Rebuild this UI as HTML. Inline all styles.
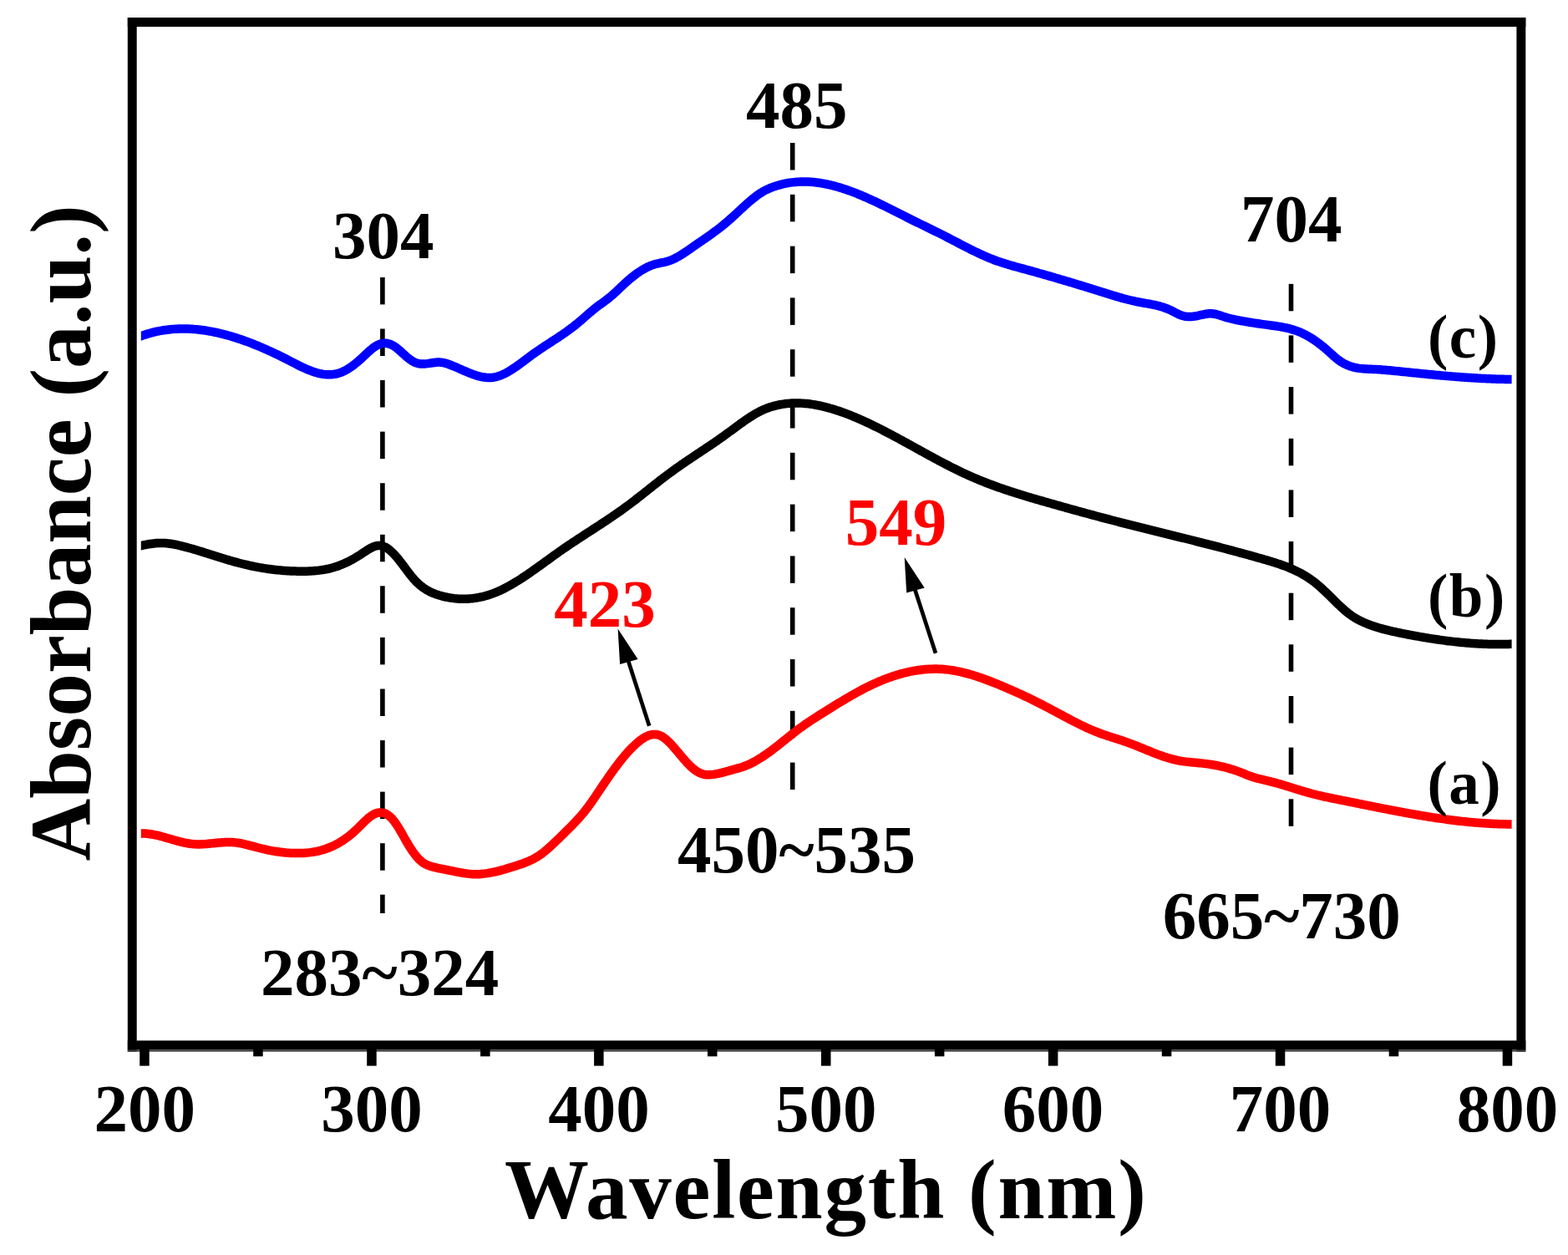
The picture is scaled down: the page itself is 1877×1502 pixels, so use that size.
<!DOCTYPE html>
<html><head><meta charset="utf-8"><title>Absorbance spectra</title>
<style>html,body{margin:0;padding:0;background:#fff;width:1877px;height:1502px;overflow:hidden}svg{display:block}</style>
</head><body>
<svg width="1877" height="1502" viewBox="0 0 1877 1502" font-family="'Liberation Serif', 'Times New Roman', serif" font-weight="bold"><rect x="152.8" y="21" width="1673.5" height="11" fill="#000"/>
<rect x="152.8" y="21" width="10.9" height="1237.6" fill="#000"/>
<rect x="1815.4" y="21" width="10.9" height="1237.6" fill="#000"/>
<rect x="152.8" y="1245.4" width="1673.5" height="11" fill="#000"/>
<rect x="152.8" y="1256.4" width="1673.5" height="2.2" fill="#3a3a3a"/>
<rect x="167.2" y="1256" width="11.5" height="19.6" fill="#000"/>
<rect x="303.2" y="1256" width="11.5" height="8.3" fill="#000"/>
<rect x="439.2" y="1256" width="11.5" height="19.6" fill="#000"/>
<rect x="575.1" y="1256" width="11.5" height="8.3" fill="#000"/>
<rect x="711.1" y="1256" width="11.5" height="19.6" fill="#000"/>
<rect x="847.0" y="1256" width="11.5" height="8.3" fill="#000"/>
<rect x="983.0" y="1256" width="11.5" height="19.6" fill="#000"/>
<rect x="1118.9" y="1256" width="11.5" height="8.3" fill="#000"/>
<rect x="1254.9" y="1256" width="11.5" height="19.6" fill="#000"/>
<rect x="1390.8" y="1256" width="11.5" height="8.3" fill="#000"/>
<rect x="1526.8" y="1256" width="11.5" height="19.6" fill="#000"/>
<rect x="1662.7" y="1256" width="11.5" height="8.3" fill="#000"/>
<rect x="1798.7" y="1256" width="11.5" height="19.6" fill="#000"/>
<rect x="455.1" y="331.9" width="5.6" height="32.5" fill="#000"/><rect x="455.1" y="393.5" width="5.6" height="32.5" fill="#000"/><rect x="455.1" y="455.0" width="5.6" height="32.5" fill="#000"/><rect x="455.1" y="516.6" width="5.6" height="32.5" fill="#000"/><rect x="455.1" y="578.2" width="5.6" height="32.5" fill="#000"/><rect x="455.1" y="639.8" width="5.6" height="32.5" fill="#000"/><rect x="455.1" y="701.3" width="5.6" height="32.5" fill="#000"/><rect x="455.1" y="762.9" width="5.6" height="32.5" fill="#000"/><rect x="455.1" y="824.5" width="5.6" height="32.5" fill="#000"/><rect x="455.1" y="886.0" width="5.6" height="32.5" fill="#000"/><rect x="455.1" y="947.6" width="5.6" height="32.5" fill="#000"/><rect x="455.1" y="1009.2" width="5.6" height="32.5" fill="#000"/><rect x="455.1" y="1070.7" width="5.6" height="22.3" fill="#000"/>
<rect x="945.9" y="171.0" width="5.6" height="32.5" fill="#000"/><rect x="945.9" y="232.8" width="5.6" height="32.5" fill="#000"/><rect x="945.9" y="294.6" width="5.6" height="32.5" fill="#000"/><rect x="945.9" y="356.4" width="5.6" height="32.5" fill="#000"/><rect x="945.9" y="418.2" width="5.6" height="32.5" fill="#000"/><rect x="945.9" y="480.0" width="5.6" height="32.5" fill="#000"/><rect x="945.9" y="541.8" width="5.6" height="32.5" fill="#000"/><rect x="945.9" y="603.6" width="5.6" height="32.5" fill="#000"/><rect x="945.9" y="665.4" width="5.6" height="32.5" fill="#000"/><rect x="945.9" y="727.2" width="5.6" height="32.5" fill="#000"/><rect x="945.9" y="789.0" width="5.6" height="32.5" fill="#000"/><rect x="945.9" y="850.8" width="5.6" height="32.5" fill="#000"/><rect x="945.9" y="912.6" width="5.6" height="32.4" fill="#000"/>
<rect x="1542.7" y="339.8" width="5.6" height="32.5" fill="#000"/><rect x="1542.7" y="401.4" width="5.6" height="32.5" fill="#000"/><rect x="1542.7" y="463.1" width="5.6" height="32.5" fill="#000"/><rect x="1542.7" y="524.8" width="5.6" height="32.5" fill="#000"/><rect x="1542.7" y="586.4" width="5.6" height="32.5" fill="#000"/><rect x="1542.7" y="648.0" width="5.6" height="32.5" fill="#000"/><rect x="1542.7" y="709.7" width="5.6" height="32.5" fill="#000"/><rect x="1542.7" y="771.3" width="5.6" height="32.5" fill="#000"/><rect x="1542.7" y="833.0" width="5.6" height="32.5" fill="#000"/><rect x="1542.7" y="894.6" width="5.6" height="32.5" fill="#000"/><rect x="1542.7" y="956.3" width="5.6" height="32.5" fill="#000"/>
<clipPath id="cp"><rect x="168.8" y="0" width="1640.8" height="1502"/></clipPath>
<g clip-path="url(#cp)">
<path d="M163.8,404.14 L165.8,403.34 L167.8,402.58 L169.8,401.86 L171.8,401.16 L173.8,400.50 L175.8,399.87 L177.8,399.27 L179.8,398.71 L181.8,398.17 L183.8,397.66 L185.8,397.19 L187.8,396.74 L189.8,396.33 L191.8,395.94 L193.8,395.59 L195.8,395.26 L197.8,394.96 L199.8,394.69 L201.8,394.45 L203.8,394.23 L205.8,394.04 L207.8,393.88 L209.8,393.75 L211.8,393.64 L213.8,393.56 L215.8,393.50 L217.8,393.47 L219.8,393.47 L221.8,393.49 L223.8,393.53 L225.8,393.60 L227.8,393.69 L229.8,393.81 L231.8,393.95 L233.8,394.11 L235.8,394.30 L237.8,394.50 L239.8,394.73 L241.8,394.99 L243.8,395.26 L245.8,395.55 L247.8,395.87 L249.8,396.21 L251.8,396.56 L253.8,396.94 L255.8,397.33 L257.8,397.75 L259.8,398.18 L261.8,398.64 L263.8,399.11 L265.8,399.60 L267.8,400.10 L269.8,400.63 L271.8,401.17 L273.8,401.73 L275.8,402.31 L277.8,402.90 L279.8,403.51 L281.8,404.13 L283.8,404.77 L285.8,405.43 L287.8,406.10 L289.8,406.79 L291.8,407.49 L293.8,408.20 L295.8,408.93 L297.8,409.68 L299.8,410.44 L301.8,411.21 L303.8,412.00 L305.8,412.80 L307.8,413.61 L309.8,414.44 L311.8,415.28 L313.8,416.13 L315.8,417.00 L317.8,417.88 L319.8,418.77 L321.8,419.67 L323.8,420.58 L325.8,421.50 L327.8,422.44 L329.8,423.39 L331.8,424.34 L333.8,425.31 L335.8,426.29 L337.8,427.28 L339.8,428.27 L341.8,429.28 L343.8,430.30 L345.8,431.32 L347.8,432.36 L349.8,433.39 L351.8,434.42 L353.8,435.44 L355.8,436.46 L357.8,437.46 L359.8,438.44 L361.8,439.40 L363.8,440.33 L365.8,441.23 L367.8,442.09 L369.8,442.92 L371.8,443.70 L373.8,444.44 L375.8,445.12 L377.8,445.75 L379.8,446.33 L381.8,446.83 L383.8,447.27 L385.8,447.64 L387.8,447.94 L389.8,448.15 L391.8,448.28 L393.8,448.33 L395.8,448.28 L397.8,448.14 L399.8,447.89 L401.8,447.55 L403.8,447.09 L405.8,446.53 L407.8,445.85 L409.8,445.04 L411.8,444.13 L413.8,443.10 L415.8,441.97 L417.8,440.74 L419.8,439.41 L421.8,438.00 L423.8,436.50 L425.8,434.92 L427.8,433.27 L429.8,431.54 L431.8,429.76 L433.8,427.92 L435.8,426.03 L437.8,424.14 L439.8,422.27 L441.8,420.44 L443.8,418.69 L445.8,417.05 L447.8,415.55 L449.8,414.21 L451.8,413.08 L453.8,412.16 L455.8,411.48 L457.8,411.02 L459.8,410.80 L461.8,410.81 L463.8,411.05 L465.8,411.52 L467.8,412.23 L469.8,413.16 L471.8,414.33 L473.8,415.72 L475.8,417.28 L477.8,418.98 L479.8,420.76 L481.8,422.59 L483.8,424.41 L485.8,426.20 L487.8,427.90 L489.8,429.50 L491.8,430.96 L493.8,432.25 L495.8,433.34 L497.8,434.20 L499.8,434.83 L501.8,435.25 L503.8,435.49 L505.8,435.57 L507.8,435.52 L509.8,435.37 L511.8,435.14 L513.8,434.86 L515.8,434.55 L517.8,434.25 L519.8,433.97 L521.8,433.74 L523.8,433.60 L525.8,433.56 L527.8,433.66 L529.8,433.91 L531.8,434.32 L533.8,434.86 L535.8,435.50 L537.8,436.21 L539.8,436.97 L541.8,437.77 L543.8,438.59 L545.8,439.44 L547.8,440.31 L549.8,441.19 L551.8,442.07 L553.8,442.96 L555.8,443.83 L557.8,444.69 L559.8,445.54 L561.8,446.36 L563.8,447.14 L565.8,447.89 L567.8,448.60 L569.8,449.25 L571.8,449.85 L573.8,450.39 L575.8,450.86 L577.8,451.25 L579.8,451.57 L581.8,451.80 L583.8,451.94 L585.8,451.98 L587.8,451.91 L589.8,451.73 L591.8,451.44 L593.8,451.03 L595.8,450.49 L597.8,449.85 L599.8,449.11 L601.8,448.26 L603.8,447.33 L605.8,446.31 L607.8,445.22 L609.8,444.05 L611.8,442.82 L613.8,441.53 L615.8,440.19 L617.8,438.81 L619.8,437.39 L621.8,435.94 L623.8,434.47 L625.8,432.98 L627.8,431.48 L629.8,429.97 L631.8,428.47 L633.8,426.98 L635.8,425.50 L637.8,424.05 L639.8,422.62 L641.8,421.22 L643.8,419.84 L645.8,418.47 L647.8,417.13 L649.8,415.80 L651.8,414.48 L653.8,413.17 L655.8,411.87 L657.8,410.57 L659.8,409.27 L661.8,407.97 L663.8,406.66 L665.8,405.35 L667.8,404.03 L669.8,402.70 L671.8,401.36 L673.8,399.99 L675.8,398.61 L677.8,397.21 L679.8,395.78 L681.8,394.32 L683.8,392.83 L685.8,391.31 L687.8,389.76 L689.8,388.16 L691.8,386.53 L693.8,384.85 L695.8,383.14 L697.8,381.39 L699.8,379.63 L701.8,377.86 L703.8,376.10 L705.8,374.36 L707.8,372.65 L709.8,370.98 L711.8,369.37 L713.8,367.81 L715.8,366.32 L717.8,364.85 L719.8,363.40 L721.8,361.96 L723.8,360.51 L725.8,359.02 L727.8,357.49 L729.8,355.89 L731.8,354.22 L733.8,352.48 L735.8,350.67 L737.8,348.82 L739.8,346.94 L741.8,345.04 L743.8,343.14 L745.8,341.25 L747.8,339.39 L749.8,337.56 L751.8,335.79 L753.8,334.07 L755.8,332.40 L757.8,330.79 L759.8,329.24 L761.8,327.76 L763.8,326.34 L765.8,324.99 L767.8,323.70 L769.8,322.49 L771.8,321.36 L773.8,320.30 L775.8,319.33 L777.8,318.44 L779.8,317.63 L781.8,316.91 L783.8,316.28 L785.8,315.74 L787.8,315.27 L789.8,314.85 L791.8,314.44 L793.8,314.04 L795.8,313.60 L797.8,313.11 L799.8,312.54 L801.8,311.87 L803.8,311.09 L805.8,310.23 L807.8,309.28 L809.8,308.25 L811.8,307.15 L813.8,305.99 L815.8,304.77 L817.8,303.50 L819.8,302.20 L821.8,300.85 L823.8,299.49 L825.8,298.10 L827.8,296.70 L829.8,295.30 L831.8,293.90 L833.8,292.51 L835.8,291.12 L837.8,289.75 L839.8,288.37 L841.8,287.00 L843.8,285.62 L845.8,284.23 L847.8,282.84 L849.8,281.43 L851.8,280.00 L853.8,278.56 L855.8,277.09 L857.8,275.60 L859.8,274.08 L861.8,272.53 L863.8,270.94 L865.8,269.32 L867.8,267.66 L869.8,265.96 L871.8,264.24 L873.8,262.49 L875.8,260.71 L877.8,258.91 L879.8,257.08 L881.8,255.24 L883.8,253.39 L885.8,251.53 L887.8,249.67 L889.8,247.83 L891.8,245.99 L893.8,244.19 L895.8,242.41 L897.8,240.68 L899.8,238.98 L901.8,237.34 L903.8,235.76 L905.8,234.25 L907.8,232.81 L909.8,231.45 L911.8,230.19 L913.8,229.01 L915.8,227.92 L917.8,226.92 L919.8,225.99 L921.8,225.13 L923.8,224.34 L925.8,223.60 L927.8,222.91 L929.8,222.27 L931.8,221.67 L933.8,221.11 L935.8,220.59 L937.8,220.12 L939.8,219.69 L941.8,219.29 L943.8,218.94 L945.8,218.63 L947.8,218.35 L949.8,218.11 L951.8,217.91 L953.8,217.75 L955.8,217.63 L957.8,217.54 L959.8,217.48 L961.8,217.46 L963.8,217.48 L965.8,217.52 L967.8,217.60 L969.8,217.72 L971.8,217.86 L973.8,218.04 L975.8,218.24 L977.8,218.48 L979.8,218.75 L981.8,219.04 L983.8,219.37 L985.8,219.72 L987.8,220.10 L989.8,220.51 L991.8,220.94 L993.8,221.40 L995.8,221.88 L997.8,222.39 L999.8,222.92 L1001.8,223.47 L1003.8,224.05 L1005.8,224.65 L1007.8,225.27 L1009.8,225.91 L1011.8,226.57 L1013.8,227.26 L1015.8,227.96 L1017.8,228.68 L1019.8,229.42 L1021.8,230.18 L1023.8,230.95 L1025.8,231.74 L1027.8,232.55 L1029.8,233.37 L1031.8,234.21 L1033.8,235.06 L1035.8,235.92 L1037.8,236.80 L1039.8,237.69 L1041.8,238.59 L1043.8,239.50 L1045.8,240.43 L1047.8,241.36 L1049.8,242.30 L1051.8,243.25 L1053.8,244.21 L1055.8,245.18 L1057.8,246.16 L1059.8,247.14 L1061.8,248.12 L1063.8,249.12 L1065.8,250.11 L1067.8,251.11 L1069.8,252.12 L1071.8,253.12 L1073.8,254.13 L1075.8,255.14 L1077.8,256.15 L1079.8,257.16 L1081.8,258.17 L1083.8,259.18 L1085.8,260.19 L1087.8,261.20 L1089.8,262.20 L1091.8,263.20 L1093.8,264.20 L1095.8,265.19 L1097.8,266.17 L1099.8,267.16 L1101.8,268.14 L1103.8,269.11 L1105.8,270.08 L1107.8,271.06 L1109.8,272.03 L1111.8,273.00 L1113.8,273.98 L1115.8,274.95 L1117.8,275.93 L1119.8,276.92 L1121.8,277.90 L1123.8,278.90 L1125.8,279.90 L1127.8,280.91 L1129.8,281.92 L1131.8,282.94 L1133.8,283.97 L1135.8,285.01 L1137.8,286.05 L1139.8,287.09 L1141.8,288.13 L1143.8,289.17 L1145.8,290.22 L1147.8,291.26 L1149.8,292.30 L1151.8,293.34 L1153.8,294.37 L1155.8,295.40 L1157.8,296.42 L1159.8,297.43 L1161.8,298.43 L1163.8,299.43 L1165.8,300.41 L1167.8,301.38 L1169.8,302.34 L1171.8,303.29 L1173.8,304.22 L1175.8,305.13 L1177.8,306.03 L1179.8,306.90 L1181.8,307.76 L1183.8,308.60 L1185.8,309.42 L1187.8,310.21 L1189.8,310.98 L1191.8,311.73 L1193.8,312.45 L1195.8,313.15 L1197.8,313.83 L1199.8,314.48 L1201.8,315.12 L1203.8,315.74 L1205.8,316.34 L1207.8,316.93 L1209.8,317.51 L1211.8,318.08 L1213.8,318.64 L1215.8,319.19 L1217.8,319.74 L1219.8,320.29 L1221.8,320.83 L1223.8,321.38 L1225.8,321.92 L1227.8,322.47 L1229.8,323.02 L1231.8,323.57 L1233.8,324.13 L1235.8,324.68 L1237.8,325.24 L1239.8,325.80 L1241.8,326.36 L1243.8,326.93 L1245.8,327.49 L1247.8,328.06 L1249.8,328.63 L1251.8,329.20 L1253.8,329.77 L1255.8,330.35 L1257.8,330.92 L1259.8,331.50 L1261.8,332.08 L1263.8,332.67 L1265.8,333.25 L1267.8,333.84 L1269.8,334.42 L1271.8,335.01 L1273.8,335.61 L1275.8,336.20 L1277.8,336.79 L1279.8,337.39 L1281.8,337.99 L1283.8,338.59 L1285.8,339.19 L1287.8,339.80 L1289.8,340.41 L1291.8,341.01 L1293.8,341.62 L1295.8,342.24 L1297.8,342.85 L1299.8,343.47 L1301.8,344.08 L1303.8,344.70 L1305.8,345.32 L1307.8,345.95 L1309.8,346.57 L1311.8,347.20 L1313.8,347.83 L1315.8,348.46 L1317.8,349.09 L1319.8,349.72 L1321.8,350.35 L1323.8,350.98 L1325.8,351.60 L1327.8,352.22 L1329.8,352.84 L1331.8,353.45 L1333.8,354.05 L1335.8,354.65 L1337.8,355.24 L1339.8,355.81 L1341.8,356.38 L1343.8,356.94 L1345.8,357.48 L1347.8,358.01 L1349.8,358.52 L1351.8,359.02 L1353.8,359.51 L1355.8,359.97 L1357.8,360.42 L1359.8,360.85 L1361.8,361.26 L1363.8,361.64 L1365.8,362.01 L1367.8,362.37 L1369.8,362.72 L1371.8,363.07 L1373.8,363.43 L1375.8,363.79 L1377.8,364.16 L1379.8,364.56 L1381.8,364.97 L1383.8,365.42 L1385.8,365.90 L1387.8,366.41 L1389.8,366.97 L1391.8,367.58 L1393.8,368.24 L1395.8,368.96 L1397.8,369.75 L1399.8,370.60 L1401.8,371.52 L1403.8,372.52 L1405.8,373.56 L1407.8,374.61 L1409.8,375.61 L1411.8,376.53 L1413.8,377.34 L1415.8,377.99 L1417.8,378.46 L1419.8,378.78 L1421.8,378.96 L1423.8,379.01 L1425.8,378.95 L1427.8,378.79 L1429.8,378.54 L1431.8,378.22 L1433.8,377.85 L1435.8,377.43 L1437.8,376.99 L1439.8,376.53 L1441.8,376.11 L1443.8,375.73 L1445.8,375.45 L1447.8,375.29 L1449.8,375.27 L1451.8,375.43 L1453.8,375.74 L1455.8,376.18 L1457.8,376.72 L1459.8,377.32 L1461.8,377.97 L1463.8,378.64 L1465.8,379.28 L1467.8,379.90 L1469.8,380.47 L1471.8,381.00 L1473.8,381.51 L1475.8,381.98 L1477.8,382.43 L1479.8,382.85 L1481.8,383.25 L1483.8,383.63 L1485.8,384.00 L1487.8,384.35 L1489.8,384.70 L1491.8,385.04 L1493.8,385.37 L1495.8,385.70 L1497.8,386.02 L1499.8,386.34 L1501.8,386.65 L1503.8,386.95 L1505.8,387.25 L1507.8,387.54 L1509.8,387.83 L1511.8,388.11 L1513.8,388.38 L1515.8,388.65 L1517.8,388.91 L1519.8,389.17 L1521.8,389.44 L1523.8,389.71 L1525.8,389.99 L1527.8,390.29 L1529.8,390.60 L1531.8,390.93 L1533.8,391.28 L1535.8,391.65 L1537.8,392.05 L1539.8,392.48 L1541.8,392.95 L1543.8,393.46 L1545.8,394.00 L1547.8,394.59 L1549.8,395.22 L1551.8,395.91 L1553.8,396.64 L1555.8,397.43 L1557.8,398.29 L1559.8,399.20 L1561.8,400.18 L1563.8,401.22 L1565.8,402.33 L1567.8,403.49 L1569.8,404.72 L1571.8,406.01 L1573.8,407.36 L1575.8,408.76 L1577.8,410.22 L1579.8,411.73 L1581.8,413.30 L1583.8,414.92 L1585.8,416.59 L1587.8,418.32 L1589.8,420.09 L1591.8,421.89 L1593.8,423.71 L1595.8,425.50 L1597.8,427.26 L1599.8,428.94 L1601.8,430.53 L1603.8,432.00 L1605.8,433.32 L1607.8,434.52 L1609.8,435.60 L1611.8,436.55 L1613.8,437.40 L1615.8,438.15 L1617.8,438.80 L1619.8,439.36 L1621.8,439.85 L1623.8,440.26 L1625.8,440.60 L1627.8,440.89 L1629.8,441.12 L1631.8,441.31 L1633.8,441.46 L1635.8,441.59 L1637.8,441.69 L1639.8,441.77 L1641.8,441.85 L1643.8,441.93 L1645.8,442.01 L1647.8,442.11 L1649.8,442.22 L1651.8,442.35 L1653.8,442.49 L1655.8,442.64 L1657.8,442.80 L1659.8,442.97 L1661.8,443.15 L1663.8,443.33 L1665.8,443.53 L1667.8,443.72 L1669.8,443.92 L1671.8,444.13 L1673.8,444.33 L1675.8,444.54 L1677.8,444.74 L1679.8,444.95 L1681.8,445.15 L1683.8,445.36 L1685.8,445.56 L1687.8,445.77 L1689.8,445.97 L1691.8,446.17 L1693.8,446.38 L1695.8,446.58 L1697.8,446.78 L1699.8,446.98 L1701.8,447.18 L1703.8,447.37 L1705.8,447.57 L1707.8,447.76 L1709.8,447.96 L1711.8,448.15 L1713.8,448.34 L1715.8,448.53 L1717.8,448.71 L1719.8,448.90 L1721.8,449.08 L1723.8,449.26 L1725.8,449.44 L1727.8,449.62 L1729.8,449.79 L1731.8,449.96 L1733.8,450.13 L1735.8,450.30 L1737.8,450.47 L1739.8,450.63 L1741.8,450.79 L1743.8,450.94 L1745.8,451.10 L1747.8,451.25 L1749.8,451.40 L1751.8,451.54 L1753.8,451.68 L1755.8,451.82 L1757.8,451.96 L1759.8,452.09 L1761.8,452.21 L1763.8,452.34 L1765.8,452.46 L1767.8,452.58 L1769.8,452.69 L1771.8,452.80 L1773.8,452.90 L1775.8,453.00 L1777.8,453.10 L1779.8,453.19 L1781.8,453.28 L1783.8,453.36 L1785.8,453.44 L1787.8,453.52 L1789.8,453.59 L1791.8,453.65 L1793.8,453.71 L1795.8,453.77 L1797.8,453.82 L1799.8,453.86 L1801.8,453.90 L1803.8,453.94 L1805.8,453.97 L1807.8,453.99 L1809.8,454.01 L1811.8,454.02 L1813.8,454.03" fill="none" stroke="#0000ff" stroke-width="10.5" stroke-linejoin="round"/>
<path d="M163.8,654.48 L165.8,653.94 L167.8,653.42 L169.8,652.93 L171.8,652.47 L173.8,652.04 L175.8,651.64 L177.8,651.29 L179.8,650.96 L181.8,650.68 L183.8,650.44 L185.8,650.24 L187.8,650.09 L189.8,649.98 L191.8,649.93 L193.8,649.92 L195.8,649.96 L197.8,650.06 L199.8,650.22 L201.8,650.43 L203.8,650.69 L205.8,651.00 L207.8,651.36 L209.8,651.75 L211.8,652.18 L213.8,652.63 L215.8,653.10 L217.8,653.59 L219.8,654.09 L221.8,654.61 L223.8,655.14 L225.8,655.69 L227.8,656.24 L229.8,656.81 L231.8,657.39 L233.8,657.97 L235.8,658.57 L237.8,659.17 L239.8,659.78 L241.8,660.39 L243.8,661.01 L245.8,661.64 L247.8,662.26 L249.8,662.89 L251.8,663.52 L253.8,664.16 L255.8,664.79 L257.8,665.42 L259.8,666.05 L261.8,666.68 L263.8,667.30 L265.8,667.92 L267.8,668.54 L269.8,669.15 L271.8,669.75 L273.8,670.35 L275.8,670.94 L277.8,671.52 L279.8,672.09 L281.8,672.65 L283.8,673.19 L285.8,673.73 L287.8,674.25 L289.8,674.76 L291.8,675.25 L293.8,675.73 L295.8,676.20 L297.8,676.65 L299.8,677.09 L301.8,677.51 L303.8,677.92 L305.8,678.32 L307.8,678.70 L309.8,679.07 L311.8,679.42 L313.8,679.76 L315.8,680.09 L317.8,680.40 L319.8,680.70 L321.8,680.98 L323.8,681.25 L325.8,681.50 L327.8,681.75 L329.8,681.97 L331.8,682.19 L333.8,682.39 L335.8,682.57 L337.8,682.75 L339.8,682.91 L341.8,683.05 L343.8,683.18 L345.8,683.30 L347.8,683.40 L349.8,683.49 L351.8,683.56 L353.8,683.62 L355.8,683.67 L357.8,683.70 L359.8,683.72 L361.8,683.72 L363.8,683.71 L365.8,683.68 L367.8,683.64 L369.8,683.57 L371.8,683.48 L373.8,683.37 L375.8,683.23 L377.8,683.06 L379.8,682.86 L381.8,682.64 L383.8,682.38 L385.8,682.09 L387.8,681.76 L389.8,681.40 L391.8,680.99 L393.8,680.55 L395.8,680.06 L397.8,679.54 L399.8,678.96 L401.8,678.34 L403.8,677.67 L405.8,676.96 L407.8,676.20 L409.8,675.39 L411.8,674.54 L413.8,673.64 L415.8,672.70 L417.8,671.71 L419.8,670.68 L421.8,669.60 L423.8,668.48 L425.8,667.32 L427.8,666.12 L429.8,664.87 L431.8,663.57 L433.8,662.24 L435.8,660.90 L437.8,659.57 L439.8,658.28 L441.8,657.07 L443.8,655.95 L445.8,654.96 L447.8,654.12 L449.8,653.48 L451.8,653.06 L453.8,652.88 L455.8,652.99 L457.8,653.40 L459.8,654.10 L461.8,655.08 L463.8,656.31 L465.8,657.77 L467.8,659.46 L469.8,661.33 L471.8,663.38 L473.8,665.59 L475.8,667.93 L477.8,670.39 L479.8,672.94 L481.8,675.56 L483.8,678.23 L485.8,680.92 L487.8,683.59 L489.8,686.22 L491.8,688.77 L493.8,691.22 L495.8,693.53 L497.8,695.68 L499.8,697.67 L501.8,699.51 L503.8,701.20 L505.8,702.75 L507.8,704.17 L509.8,705.47 L511.8,706.66 L513.8,707.74 L515.8,708.73 L517.8,709.62 L519.8,710.44 L521.8,711.18 L523.8,711.86 L525.8,712.48 L527.8,713.05 L529.8,713.58 L531.8,714.07 L533.8,714.52 L535.8,714.92 L537.8,715.29 L539.8,715.62 L541.8,715.91 L543.8,716.16 L545.8,716.36 L547.8,716.53 L549.8,716.65 L551.8,716.73 L553.8,716.78 L555.8,716.78 L557.8,716.74 L559.8,716.66 L561.8,716.53 L563.8,716.37 L565.8,716.16 L567.8,715.91 L569.8,715.62 L571.8,715.29 L573.8,714.91 L575.8,714.50 L577.8,714.04 L579.8,713.54 L581.8,712.99 L583.8,712.41 L585.8,711.78 L587.8,711.10 L589.8,710.39 L591.8,709.63 L593.8,708.83 L595.8,707.98 L597.8,707.10 L599.8,706.18 L601.8,705.22 L603.8,704.22 L605.8,703.19 L607.8,702.12 L609.8,701.02 L611.8,699.90 L613.8,698.74 L615.8,697.55 L617.8,696.34 L619.8,695.11 L621.8,693.85 L623.8,692.56 L625.8,691.26 L627.8,689.94 L629.8,688.59 L631.8,687.24 L633.8,685.86 L635.8,684.47 L637.8,683.07 L639.8,681.66 L641.8,680.24 L643.8,678.81 L645.8,677.37 L647.8,675.93 L649.8,674.48 L651.8,673.03 L653.8,671.58 L655.8,670.13 L657.8,668.68 L659.8,667.23 L661.8,665.79 L663.8,664.35 L665.8,662.92 L667.8,661.49 L669.8,660.08 L671.8,658.68 L673.8,657.28 L675.8,655.90 L677.8,654.54 L679.8,653.18 L681.8,651.83 L683.8,650.49 L685.8,649.15 L687.8,647.83 L689.8,646.51 L691.8,645.19 L693.8,643.89 L695.8,642.58 L697.8,641.28 L699.8,639.98 L701.8,638.69 L703.8,637.39 L705.8,636.10 L707.8,634.81 L709.8,633.51 L711.8,632.22 L713.8,630.92 L715.8,629.62 L717.8,628.31 L719.8,627.00 L721.8,625.69 L723.8,624.37 L725.8,623.04 L727.8,621.71 L729.8,620.37 L731.8,619.02 L733.8,617.66 L735.8,616.29 L737.8,614.91 L739.8,613.52 L741.8,612.11 L743.8,610.69 L745.8,609.26 L747.8,607.82 L749.8,606.36 L751.8,604.88 L753.8,603.39 L755.8,601.88 L757.8,600.36 L759.8,598.82 L761.8,597.27 L763.8,595.72 L765.8,594.15 L767.8,592.58 L769.8,591.00 L771.8,589.42 L773.8,587.84 L775.8,586.25 L777.8,584.66 L779.8,583.08 L781.8,581.49 L783.8,579.91 L785.8,578.34 L787.8,576.77 L789.8,575.22 L791.8,573.67 L793.8,572.13 L795.8,570.60 L797.8,569.09 L799.8,567.59 L801.8,566.11 L803.8,564.65 L805.8,563.20 L807.8,561.76 L809.8,560.34 L811.8,558.93 L813.8,557.53 L815.8,556.14 L817.8,554.76 L819.8,553.39 L821.8,552.03 L823.8,550.68 L825.8,549.33 L827.8,547.99 L829.8,546.65 L831.8,545.31 L833.8,543.98 L835.8,542.65 L837.8,541.32 L839.8,539.99 L841.8,538.66 L843.8,537.32 L845.8,535.98 L847.8,534.64 L849.8,533.29 L851.8,531.94 L853.8,530.58 L855.8,529.21 L857.8,527.83 L859.8,526.44 L861.8,525.03 L863.8,523.62 L865.8,522.19 L867.8,520.75 L869.8,519.30 L871.8,517.84 L873.8,516.38 L875.8,514.91 L877.8,513.44 L879.8,511.96 L881.8,510.49 L883.8,509.03 L885.8,507.57 L887.8,506.13 L889.8,504.70 L891.8,503.30 L893.8,501.92 L895.8,500.57 L897.8,499.25 L899.8,497.97 L901.8,496.73 L903.8,495.54 L905.8,494.39 L907.8,493.30 L909.8,492.27 L911.8,491.29 L913.8,490.38 L915.8,489.53 L917.8,488.74 L919.8,488.01 L921.8,487.33 L923.8,486.71 L925.8,486.13 L927.8,485.60 L929.8,485.11 L931.8,484.67 L933.8,484.27 L935.8,483.91 L937.8,483.59 L939.8,483.32 L941.8,483.08 L943.8,482.88 L945.8,482.72 L947.8,482.60 L949.8,482.52 L951.8,482.47 L953.8,482.46 L955.8,482.48 L957.8,482.54 L959.8,482.63 L961.8,482.75 L963.8,482.91 L965.8,483.10 L967.8,483.32 L969.8,483.56 L971.8,483.84 L973.8,484.15 L975.8,484.49 L977.8,484.85 L979.8,485.25 L981.8,485.66 L983.8,486.11 L985.8,486.58 L987.8,487.07 L989.8,487.58 L991.8,488.12 L993.8,488.69 L995.8,489.27 L997.8,489.87 L999.8,490.50 L1001.8,491.14 L1003.8,491.80 L1005.8,492.49 L1007.8,493.19 L1009.8,493.91 L1011.8,494.64 L1013.8,495.39 L1015.8,496.16 L1017.8,496.95 L1019.8,497.75 L1021.8,498.57 L1023.8,499.40 L1025.8,500.25 L1027.8,501.11 L1029.8,501.98 L1031.8,502.87 L1033.8,503.78 L1035.8,504.69 L1037.8,505.62 L1039.8,506.55 L1041.8,507.50 L1043.8,508.47 L1045.8,509.44 L1047.8,510.42 L1049.8,511.41 L1051.8,512.41 L1053.8,513.42 L1055.8,514.44 L1057.8,515.47 L1059.8,516.50 L1061.8,517.54 L1063.8,518.59 L1065.8,519.65 L1067.8,520.71 L1069.8,521.77 L1071.8,522.85 L1073.8,523.92 L1075.8,525.01 L1077.8,526.09 L1079.8,527.18 L1081.8,528.27 L1083.8,529.37 L1085.8,530.47 L1087.8,531.57 L1089.8,532.67 L1091.8,533.77 L1093.8,534.88 L1095.8,535.98 L1097.8,537.09 L1099.8,538.19 L1101.8,539.30 L1103.8,540.40 L1105.8,541.50 L1107.8,542.60 L1109.8,543.69 L1111.8,544.79 L1113.8,545.88 L1115.8,546.96 L1117.8,548.05 L1119.8,549.12 L1121.8,550.20 L1123.8,551.27 L1125.8,552.33 L1127.8,553.38 L1129.8,554.43 L1131.8,555.48 L1133.8,556.51 L1135.8,557.54 L1137.8,558.56 L1139.8,559.57 L1141.8,560.57 L1143.8,561.57 L1145.8,562.55 L1147.8,563.52 L1149.8,564.49 L1151.8,565.44 L1153.8,566.38 L1155.8,567.31 L1157.8,568.22 L1159.8,569.13 L1161.8,570.02 L1163.8,570.90 L1165.8,571.76 L1167.8,572.62 L1169.8,573.46 L1171.8,574.29 L1173.8,575.11 L1175.8,575.91 L1177.8,576.71 L1179.8,577.50 L1181.8,578.27 L1183.8,579.04 L1185.8,579.79 L1187.8,580.54 L1189.8,581.27 L1191.8,582.00 L1193.8,582.72 L1195.8,583.43 L1197.8,584.13 L1199.8,584.82 L1201.8,585.51 L1203.8,586.18 L1205.8,586.85 L1207.8,587.52 L1209.8,588.17 L1211.8,588.82 L1213.8,589.46 L1215.8,590.10 L1217.8,590.73 L1219.8,591.36 L1221.8,591.98 L1223.8,592.59 L1225.8,593.20 L1227.8,593.81 L1229.8,594.41 L1231.8,595.01 L1233.8,595.60 L1235.8,596.19 L1237.8,596.78 L1239.8,597.36 L1241.8,597.94 L1243.8,598.52 L1245.8,599.10 L1247.8,599.67 L1249.8,600.24 L1251.8,600.82 L1253.8,601.39 L1255.8,601.95 L1257.8,602.52 L1259.8,603.09 L1261.8,603.65 L1263.8,604.22 L1265.8,604.78 L1267.8,605.35 L1269.8,605.91 L1271.8,606.47 L1273.8,607.03 L1275.8,607.59 L1277.8,608.15 L1279.8,608.71 L1281.8,609.27 L1283.8,609.82 L1285.8,610.38 L1287.8,610.93 L1289.8,611.48 L1291.8,612.03 L1293.8,612.58 L1295.8,613.13 L1297.8,613.67 L1299.8,614.22 L1301.8,614.76 L1303.8,615.31 L1305.8,615.85 L1307.8,616.39 L1309.8,616.92 L1311.8,617.46 L1313.8,617.99 L1315.8,618.53 L1317.8,619.06 L1319.8,619.59 L1321.8,620.12 L1323.8,620.64 L1325.8,621.17 L1327.8,621.69 L1329.8,622.21 L1331.8,622.73 L1333.8,623.25 L1335.8,623.77 L1337.8,624.28 L1339.8,624.79 L1341.8,625.31 L1343.8,625.82 L1345.8,626.33 L1347.8,626.84 L1349.8,627.35 L1351.8,627.85 L1353.8,628.36 L1355.8,628.86 L1357.8,629.37 L1359.8,629.87 L1361.8,630.37 L1363.8,630.87 L1365.8,631.37 L1367.8,631.87 L1369.8,632.37 L1371.8,632.87 L1373.8,633.37 L1375.8,633.87 L1377.8,634.36 L1379.8,634.86 L1381.8,635.36 L1383.8,635.85 L1385.8,636.35 L1387.8,636.84 L1389.8,637.34 L1391.8,637.83 L1393.8,638.33 L1395.8,638.82 L1397.8,639.32 L1399.8,639.81 L1401.8,640.31 L1403.8,640.81 L1405.8,641.30 L1407.8,641.80 L1409.8,642.29 L1411.8,642.79 L1413.8,643.29 L1415.8,643.78 L1417.8,644.28 L1419.8,644.78 L1421.8,645.28 L1423.8,645.78 L1425.8,646.28 L1427.8,646.78 L1429.8,647.28 L1431.8,647.79 L1433.8,648.29 L1435.8,648.80 L1437.8,649.30 L1439.8,649.81 L1441.8,650.32 L1443.8,650.83 L1445.8,651.34 L1447.8,651.85 L1449.8,652.36 L1451.8,652.87 L1453.8,653.39 L1455.8,653.91 L1457.8,654.42 L1459.8,654.94 L1461.8,655.47 L1463.8,655.99 L1465.8,656.51 L1467.8,657.04 L1469.8,657.57 L1471.8,658.10 L1473.8,658.63 L1475.8,659.16 L1477.8,659.70 L1479.8,660.24 L1481.8,660.78 L1483.8,661.32 L1485.8,661.86 L1487.8,662.41 L1489.8,662.96 L1491.8,663.51 L1493.8,664.06 L1495.8,664.61 L1497.8,665.17 L1499.8,665.73 L1501.8,666.30 L1503.8,666.86 L1505.8,667.43 L1507.8,668.00 L1509.8,668.57 L1511.8,669.15 L1513.8,669.73 L1515.8,670.31 L1517.8,670.90 L1519.8,671.49 L1521.8,672.09 L1523.8,672.70 L1525.8,673.33 L1527.8,673.97 L1529.8,674.62 L1531.8,675.29 L1533.8,675.98 L1535.8,676.70 L1537.8,677.43 L1539.8,678.19 L1541.8,678.98 L1543.8,679.80 L1545.8,680.65 L1547.8,681.53 L1549.8,682.45 L1551.8,683.40 L1553.8,684.39 L1555.8,685.42 L1557.8,686.49 L1559.8,687.61 L1561.8,688.77 L1563.8,689.98 L1565.8,691.25 L1567.8,692.57 L1569.8,693.96 L1571.8,695.41 L1573.8,696.94 L1575.8,698.54 L1577.8,700.21 L1579.8,701.95 L1581.8,703.75 L1583.8,705.59 L1585.8,707.48 L1587.8,709.40 L1589.8,711.35 L1591.8,713.32 L1593.8,715.30 L1595.8,717.28 L1597.8,719.25 L1599.8,721.21 L1601.8,723.15 L1603.8,725.05 L1605.8,726.92 L1607.8,728.73 L1609.8,730.49 L1611.8,732.18 L1613.8,733.79 L1615.8,735.32 L1617.8,736.76 L1619.8,738.11 L1621.8,739.36 L1623.8,740.53 L1625.8,741.63 L1627.8,742.66 L1629.8,743.63 L1631.8,744.56 L1633.8,745.44 L1635.8,746.28 L1637.8,747.09 L1639.8,747.86 L1641.8,748.59 L1643.8,749.29 L1645.8,749.96 L1647.8,750.61 L1649.8,751.22 L1651.8,751.81 L1653.8,752.38 L1655.8,752.92 L1657.8,753.44 L1659.8,753.94 L1661.8,754.43 L1663.8,754.90 L1665.8,755.36 L1667.8,755.80 L1669.8,756.23 L1671.8,756.66 L1673.8,757.07 L1675.8,757.49 L1677.8,757.89 L1679.8,758.30 L1681.8,758.69 L1683.8,759.09 L1685.8,759.48 L1687.8,759.86 L1689.8,760.24 L1691.8,760.61 L1693.8,760.98 L1695.8,761.35 L1697.8,761.70 L1699.8,762.06 L1701.8,762.41 L1703.8,762.75 L1705.8,763.09 L1707.8,763.42 L1709.8,763.74 L1711.8,764.06 L1713.8,764.37 L1715.8,764.68 L1717.8,764.98 L1719.8,765.28 L1721.8,765.57 L1723.8,765.85 L1725.8,766.13 L1727.8,766.40 L1729.8,766.66 L1731.8,766.92 L1733.8,767.17 L1735.8,767.41 L1737.8,767.65 L1739.8,767.87 L1741.8,768.10 L1743.8,768.31 L1745.8,768.52 L1747.8,768.72 L1749.8,768.91 L1751.8,769.09 L1753.8,769.27 L1755.8,769.44 L1757.8,769.60 L1759.8,769.76 L1761.8,769.90 L1763.8,770.04 L1765.8,770.17 L1767.8,770.29 L1769.8,770.41 L1771.8,770.51 L1773.8,770.61 L1775.8,770.69 L1777.8,770.77 L1779.8,770.84 L1781.8,770.91 L1783.8,770.96 L1785.8,771.00 L1787.8,771.04 L1789.8,771.06 L1791.8,771.08 L1793.8,771.09 L1795.8,771.08 L1797.8,771.07 L1799.8,771.05 L1801.8,771.02 L1803.8,770.98 L1805.8,770.93 L1807.8,770.87 L1809.8,770.80 L1811.8,770.72 L1813.8,770.62" fill="none" stroke="#000" stroke-width="10.5" stroke-linejoin="round"/>
<path d="M163.8,997.80 L165.8,997.61 L167.8,997.49 L169.8,997.45 L171.8,997.48 L173.8,997.57 L175.8,997.73 L177.8,997.94 L179.8,998.21 L181.8,998.53 L183.8,998.89 L185.8,999.30 L187.8,999.74 L189.8,1000.21 L191.8,1000.71 L193.8,1001.24 L195.8,1001.78 L197.8,1002.34 L199.8,1002.92 L201.8,1003.50 L203.8,1004.08 L205.8,1004.66 L207.8,1005.24 L209.8,1005.81 L211.8,1006.36 L213.8,1006.90 L215.8,1007.41 L217.8,1007.90 L219.8,1008.35 L221.8,1008.78 L223.8,1009.16 L225.8,1009.50 L227.8,1009.80 L229.8,1010.04 L231.8,1010.22 L233.8,1010.35 L235.8,1010.42 L237.8,1010.44 L239.8,1010.42 L241.8,1010.36 L243.8,1010.26 L245.8,1010.13 L247.8,1009.97 L249.8,1009.79 L251.8,1009.60 L253.8,1009.40 L255.8,1009.20 L257.8,1008.99 L259.8,1008.79 L261.8,1008.60 L263.8,1008.43 L265.8,1008.27 L267.8,1008.15 L269.8,1008.05 L271.8,1007.99 L273.8,1007.97 L275.8,1007.99 L277.8,1008.07 L279.8,1008.20 L281.8,1008.39 L283.8,1008.64 L285.8,1008.94 L287.8,1009.29 L289.8,1009.68 L291.8,1010.11 L293.8,1010.56 L295.8,1011.05 L297.8,1011.55 L299.8,1012.08 L301.8,1012.61 L303.8,1013.15 L305.8,1013.69 L307.8,1014.22 L309.8,1014.75 L311.8,1015.26 L313.8,1015.76 L315.8,1016.23 L317.8,1016.68 L319.8,1017.11 L321.8,1017.53 L323.8,1017.92 L325.8,1018.29 L327.8,1018.64 L329.8,1018.96 L331.8,1019.27 L333.8,1019.55 L335.8,1019.81 L337.8,1020.05 L339.8,1020.27 L341.8,1020.46 L343.8,1020.63 L345.8,1020.77 L347.8,1020.89 L349.8,1020.99 L351.8,1021.06 L353.8,1021.10 L355.8,1021.12 L357.8,1021.12 L359.8,1021.08 L361.8,1021.01 L363.8,1020.91 L365.8,1020.78 L367.8,1020.61 L369.8,1020.40 L371.8,1020.16 L373.8,1019.87 L375.8,1019.55 L377.8,1019.18 L379.8,1018.77 L381.8,1018.31 L383.8,1017.81 L385.8,1017.25 L387.8,1016.65 L389.8,1015.99 L391.8,1015.28 L393.8,1014.52 L395.8,1013.70 L397.8,1012.83 L399.8,1011.89 L401.8,1010.89 L403.8,1009.83 L405.8,1008.71 L407.8,1007.52 L409.8,1006.27 L411.8,1004.94 L413.8,1003.55 L415.8,1002.08 L417.8,1000.54 L419.8,998.93 L421.8,997.23 L423.8,995.46 L425.8,993.61 L427.8,991.68 L429.8,989.70 L431.8,987.70 L433.8,985.70 L435.8,983.75 L437.8,981.85 L439.8,980.06 L441.8,978.39 L443.8,976.87 L445.8,975.53 L447.8,974.40 L449.8,973.51 L451.8,972.88 L453.8,972.51 L455.8,972.42 L457.8,972.62 L459.8,973.11 L461.8,973.91 L463.8,975.02 L465.8,976.45 L467.8,978.22 L469.8,980.33 L471.8,982.79 L473.8,985.57 L475.8,988.60 L477.8,991.84 L479.8,995.24 L481.8,998.73 L483.8,1002.26 L485.8,1005.79 L487.8,1009.25 L489.8,1012.60 L491.8,1015.78 L493.8,1018.77 L495.8,1021.57 L497.8,1024.16 L499.8,1026.51 L501.8,1028.62 L503.8,1030.46 L505.8,1032.05 L507.8,1033.40 L509.8,1034.52 L511.8,1035.45 L513.8,1036.21 L515.8,1036.86 L517.8,1037.42 L519.8,1037.93 L521.8,1038.41 L523.8,1038.86 L525.8,1039.28 L527.8,1039.69 L529.8,1040.08 L531.8,1040.47 L533.8,1040.86 L535.8,1041.25 L537.8,1041.65 L539.8,1042.06 L541.8,1042.47 L543.8,1042.88 L545.8,1043.29 L547.8,1043.69 L549.8,1044.07 L551.8,1044.43 L553.8,1044.78 L555.8,1045.09 L557.8,1045.38 L559.8,1045.64 L561.8,1045.85 L563.8,1046.03 L565.8,1046.15 L567.8,1046.23 L569.8,1046.25 L571.8,1046.23 L573.8,1046.15 L575.8,1046.02 L577.8,1045.85 L579.8,1045.63 L581.8,1045.37 L583.8,1045.08 L585.8,1044.74 L587.8,1044.37 L589.8,1043.97 L591.8,1043.54 L593.8,1043.08 L595.8,1042.59 L597.8,1042.08 L599.8,1041.55 L601.8,1041.00 L603.8,1040.43 L605.8,1039.84 L607.8,1039.25 L609.8,1038.64 L611.8,1038.02 L613.8,1037.40 L615.8,1036.77 L617.8,1036.14 L619.8,1035.51 L621.8,1034.85 L623.8,1034.18 L625.8,1033.48 L627.8,1032.75 L629.8,1031.97 L631.8,1031.16 L633.8,1030.29 L635.8,1029.36 L637.8,1028.37 L639.8,1027.31 L641.8,1026.17 L643.8,1024.95 L645.8,1023.65 L647.8,1022.24 L649.8,1020.74 L651.8,1019.15 L653.8,1017.48 L655.8,1015.75 L657.8,1013.97 L659.8,1012.15 L661.8,1010.30 L663.8,1008.43 L665.8,1006.53 L667.8,1004.62 L669.8,1002.69 L671.8,1000.74 L673.8,998.78 L675.8,996.81 L677.8,994.83 L679.8,992.84 L681.8,990.84 L683.8,988.83 L685.8,986.79 L687.8,984.72 L689.8,982.60 L691.8,980.43 L693.8,978.20 L695.8,975.91 L697.8,973.54 L699.8,971.10 L701.8,968.57 L703.8,965.95 L705.8,963.24 L707.8,960.43 L709.8,957.55 L711.8,954.62 L713.8,951.65 L715.8,948.66 L717.8,945.67 L719.8,942.69 L721.8,939.72 L723.8,936.78 L725.8,933.85 L727.8,930.95 L729.8,928.09 L731.8,925.26 L733.8,922.46 L735.8,919.72 L737.8,917.02 L739.8,914.38 L741.8,911.79 L743.8,909.26 L745.8,906.80 L747.8,904.41 L749.8,902.09 L751.8,899.84 L753.8,897.68 L755.8,895.59 L757.8,893.60 L759.8,891.69 L761.8,889.88 L763.8,888.17 L765.8,886.56 L767.8,885.07 L769.8,883.71 L771.8,882.48 L773.8,881.42 L775.8,880.52 L777.8,879.81 L779.8,879.29 L781.8,878.99 L783.8,878.91 L785.8,879.06 L787.8,879.47 L789.8,880.15 L791.8,881.09 L793.8,882.29 L795.8,883.71 L797.8,885.33 L799.8,887.14 L801.8,889.10 L803.8,891.19 L805.8,893.40 L807.8,895.69 L809.8,898.04 L811.8,900.43 L813.8,902.84 L815.8,905.24 L817.8,907.61 L819.8,909.93 L821.8,912.16 L823.8,914.30 L825.8,916.31 L827.8,918.19 L829.8,919.93 L831.8,921.50 L833.8,922.91 L835.8,924.13 L837.8,925.17 L839.8,925.99 L841.8,926.61 L843.8,927.02 L845.8,927.24 L847.8,927.31 L849.8,927.25 L851.8,927.09 L853.8,926.84 L855.8,926.54 L857.8,926.19 L859.8,925.79 L861.8,925.35 L863.8,924.87 L865.8,924.37 L867.8,923.84 L869.8,923.29 L871.8,922.73 L873.8,922.17 L875.8,921.60 L877.8,921.03 L879.8,920.47 L881.8,919.92 L883.8,919.36 L885.8,918.77 L887.8,918.15 L889.8,917.48 L891.8,916.76 L893.8,915.97 L895.8,915.12 L897.8,914.21 L899.8,913.24 L901.8,912.21 L903.8,911.13 L905.8,910.00 L907.8,908.82 L909.8,907.59 L911.8,906.32 L913.8,905.01 L915.8,903.66 L917.8,902.27 L919.8,900.85 L921.8,899.40 L923.8,897.92 L925.8,896.41 L927.8,894.88 L929.8,893.33 L931.8,891.76 L933.8,890.17 L935.8,888.57 L937.8,886.96 L939.8,885.35 L941.8,883.74 L943.8,882.14 L945.8,880.54 L947.8,878.95 L949.8,877.38 L951.8,875.83 L953.8,874.30 L955.8,872.80 L957.8,871.33 L959.8,869.88 L961.8,868.46 L963.8,867.06 L965.8,865.69 L967.8,864.34 L969.8,863.00 L971.8,861.68 L973.8,860.38 L975.8,859.08 L977.8,857.80 L979.8,856.53 L981.8,855.27 L983.8,854.01 L985.8,852.76 L987.8,851.51 L989.8,850.26 L991.8,849.01 L993.8,847.77 L995.8,846.53 L997.8,845.29 L999.8,844.05 L1001.8,842.82 L1003.8,841.60 L1005.8,840.38 L1007.8,839.17 L1009.8,837.97 L1011.8,836.77 L1013.8,835.59 L1015.8,834.42 L1017.8,833.25 L1019.8,832.10 L1021.8,830.97 L1023.8,829.84 L1025.8,828.73 L1027.8,827.64 L1029.8,826.56 L1031.8,825.50 L1033.8,824.45 L1035.8,823.43 L1037.8,822.42 L1039.8,821.43 L1041.8,820.46 L1043.8,819.51 L1045.8,818.58 L1047.8,817.67 L1049.8,816.78 L1051.8,815.91 L1053.8,815.06 L1055.8,814.23 L1057.8,813.43 L1059.8,812.65 L1061.8,811.88 L1063.8,811.14 L1065.8,810.43 L1067.8,809.73 L1069.8,809.06 L1071.8,808.42 L1073.8,807.79 L1075.8,807.19 L1077.8,806.62 L1079.8,806.07 L1081.8,805.54 L1083.8,805.04 L1085.8,804.56 L1087.8,804.11 L1089.8,803.69 L1091.8,803.29 L1093.8,802.92 L1095.8,802.57 L1097.8,802.25 L1099.8,801.96 L1101.8,801.69 L1103.8,801.46 L1105.8,801.25 L1107.8,801.07 L1109.8,800.91 L1111.8,800.79 L1113.8,800.69 L1115.8,800.63 L1117.8,800.59 L1119.8,800.59 L1121.8,800.61 L1123.8,800.66 L1125.8,800.75 L1127.8,800.86 L1129.8,801.01 L1131.8,801.19 L1133.8,801.40 L1135.8,801.64 L1137.8,801.91 L1139.8,802.21 L1141.8,802.54 L1143.8,802.89 L1145.8,803.28 L1147.8,803.69 L1149.8,804.12 L1151.8,804.58 L1153.8,805.07 L1155.8,805.58 L1157.8,806.11 L1159.8,806.66 L1161.8,807.23 L1163.8,807.83 L1165.8,808.44 L1167.8,809.07 L1169.8,809.73 L1171.8,810.39 L1173.8,811.08 L1175.8,811.78 L1177.8,812.50 L1179.8,813.23 L1181.8,813.97 L1183.8,814.73 L1185.8,815.50 L1187.8,816.28 L1189.8,817.07 L1191.8,817.87 L1193.8,818.68 L1195.8,819.50 L1197.8,820.32 L1199.8,821.16 L1201.8,822.00 L1203.8,822.85 L1205.8,823.71 L1207.8,824.57 L1209.8,825.44 L1211.8,826.32 L1213.8,827.21 L1215.8,828.11 L1217.8,829.01 L1219.8,829.92 L1221.8,830.84 L1223.8,831.77 L1225.8,832.71 L1227.8,833.65 L1229.8,834.60 L1231.8,835.56 L1233.8,836.53 L1235.8,837.50 L1237.8,838.49 L1239.8,839.48 L1241.8,840.48 L1243.8,841.48 L1245.8,842.50 L1247.8,843.52 L1249.8,844.55 L1251.8,845.59 L1253.8,846.64 L1255.8,847.69 L1257.8,848.75 L1259.8,849.82 L1261.8,850.89 L1263.8,851.96 L1265.8,853.03 L1267.8,854.11 L1269.8,855.18 L1271.8,856.25 L1273.8,857.32 L1275.8,858.39 L1277.8,859.45 L1279.8,860.50 L1281.8,861.55 L1283.8,862.59 L1285.8,863.62 L1287.8,864.64 L1289.8,865.65 L1291.8,866.65 L1293.8,867.63 L1295.8,868.60 L1297.8,869.55 L1299.8,870.49 L1301.8,871.41 L1303.8,872.31 L1305.8,873.19 L1307.8,874.05 L1309.8,874.88 L1311.8,875.70 L1313.8,876.49 L1315.8,877.25 L1317.8,877.99 L1319.8,878.70 L1321.8,879.40 L1323.8,880.07 L1325.8,880.73 L1327.8,881.38 L1329.8,882.02 L1331.8,882.66 L1333.8,883.29 L1335.8,883.92 L1337.8,884.56 L1339.8,885.20 L1341.8,885.85 L1343.8,886.51 L1345.8,887.19 L1347.8,887.88 L1349.8,888.60 L1351.8,889.33 L1353.8,890.09 L1355.8,890.85 L1357.8,891.63 L1359.8,892.43 L1361.8,893.23 L1363.8,894.04 L1365.8,894.85 L1367.8,895.67 L1369.8,896.49 L1371.8,897.30 L1373.8,898.12 L1375.8,898.93 L1377.8,899.74 L1379.8,900.53 L1381.8,901.32 L1383.8,902.09 L1385.8,902.85 L1387.8,903.59 L1389.8,904.31 L1391.8,905.01 L1393.8,905.69 L1395.8,906.35 L1397.8,906.98 L1399.8,907.58 L1401.8,908.14 L1403.8,908.68 L1405.8,909.18 L1407.8,909.65 L1409.8,910.08 L1411.8,910.47 L1413.8,910.81 L1415.8,911.12 L1417.8,911.39 L1419.8,911.64 L1421.8,911.86 L1423.8,912.07 L1425.8,912.26 L1427.8,912.44 L1429.8,912.62 L1431.8,912.80 L1433.8,912.98 L1435.8,913.17 L1437.8,913.38 L1439.8,913.60 L1441.8,913.84 L1443.8,914.10 L1445.8,914.37 L1447.8,914.66 L1449.8,914.97 L1451.8,915.30 L1453.8,915.65 L1455.8,916.02 L1457.8,916.42 L1459.8,916.83 L1461.8,917.27 L1463.8,917.73 L1465.8,918.22 L1467.8,918.74 L1469.8,919.28 L1471.8,919.84 L1473.8,920.44 L1475.8,921.06 L1477.8,921.71 L1479.8,922.39 L1481.8,923.10 L1483.8,923.84 L1485.8,924.62 L1487.8,925.41 L1489.8,926.21 L1491.8,927.01 L1493.8,927.80 L1495.8,928.57 L1497.8,929.30 L1499.8,929.98 L1501.8,930.62 L1503.8,931.20 L1505.8,931.74 L1507.8,932.25 L1509.8,932.73 L1511.8,933.20 L1513.8,933.65 L1515.8,934.11 L1517.8,934.57 L1519.8,935.05 L1521.8,935.55 L1523.8,936.07 L1525.8,936.60 L1527.8,937.15 L1529.8,937.71 L1531.8,938.28 L1533.8,938.87 L1535.8,939.47 L1537.8,940.07 L1539.8,940.68 L1541.8,941.30 L1543.8,941.92 L1545.8,942.54 L1547.8,943.16 L1549.8,943.79 L1551.8,944.41 L1553.8,945.03 L1555.8,945.64 L1557.8,946.25 L1559.8,946.85 L1561.8,947.44 L1563.8,948.03 L1565.8,948.60 L1567.8,949.16 L1569.8,949.70 L1571.8,950.23 L1573.8,950.74 L1575.8,951.24 L1577.8,951.73 L1579.8,952.20 L1581.8,952.66 L1583.8,953.11 L1585.8,953.55 L1587.8,953.98 L1589.8,954.41 L1591.8,954.83 L1593.8,955.24 L1595.8,955.65 L1597.8,956.05 L1599.8,956.45 L1601.8,956.85 L1603.8,957.25 L1605.8,957.65 L1607.8,958.05 L1609.8,958.45 L1611.8,958.85 L1613.8,959.25 L1615.8,959.66 L1617.8,960.06 L1619.8,960.46 L1621.8,960.87 L1623.8,961.27 L1625.8,961.67 L1627.8,962.08 L1629.8,962.48 L1631.8,962.88 L1633.8,963.29 L1635.8,963.69 L1637.8,964.09 L1639.8,964.49 L1641.8,964.90 L1643.8,965.30 L1645.8,965.70 L1647.8,966.09 L1649.8,966.49 L1651.8,966.89 L1653.8,967.28 L1655.8,967.68 L1657.8,968.07 L1659.8,968.46 L1661.8,968.85 L1663.8,969.23 L1665.8,969.62 L1667.8,970.00 L1669.8,970.38 L1671.8,970.76 L1673.8,971.14 L1675.8,971.52 L1677.8,971.89 L1679.8,972.26 L1681.8,972.63 L1683.8,972.99 L1685.8,973.35 L1687.8,973.71 L1689.8,974.07 L1691.8,974.42 L1693.8,974.77 L1695.8,975.12 L1697.8,975.46 L1699.8,975.80 L1701.8,976.14 L1703.8,976.47 L1705.8,976.80 L1707.8,977.12 L1709.8,977.45 L1711.8,977.76 L1713.8,978.08 L1715.8,978.38 L1717.8,978.69 L1719.8,978.99 L1721.8,979.29 L1723.8,979.58 L1725.8,979.86 L1727.8,980.14 L1729.8,980.42 L1731.8,980.69 L1733.8,980.96 L1735.8,981.22 L1737.8,981.48 L1739.8,981.73 L1741.8,981.98 L1743.8,982.22 L1745.8,982.45 L1747.8,982.68 L1749.8,982.90 L1751.8,983.12 L1753.8,983.33 L1755.8,983.54 L1757.8,983.73 L1759.8,983.93 L1761.8,984.11 L1763.8,984.29 L1765.8,984.47 L1767.8,984.63 L1769.8,984.79 L1771.8,984.95 L1773.8,985.09 L1775.8,985.23 L1777.8,985.36 L1779.8,985.49 L1781.8,985.60 L1783.8,985.71 L1785.8,985.82 L1787.8,985.91 L1789.8,986.00 L1791.8,986.08 L1793.8,986.15 L1795.8,986.21 L1797.8,986.27 L1799.8,986.31 L1801.8,986.35 L1803.8,986.38 L1805.8,986.40 L1807.8,986.42 L1809.8,986.42 L1811.8,986.42 L1813.8,986.40" fill="none" stroke="#ff0000" stroke-width="10.5" stroke-linejoin="round"/>
</g>
<line x1="750.9" y1="787.3" x2="777.2" y2="868.8" stroke="#000" stroke-width="4.7"/><polygon points="739.6,752.4 742.1,794.9 763.6,788.9" fill="#000"/>
<line x1="1093.9" y1="701.4" x2="1120.0" y2="781.8" stroke="#000" stroke-width="4.7"/><polygon points="1082.7,666.9 1085.2,709.4 1106.7,703.4" fill="#000"/>
<text x="173.3" y="1354.0" font-size="81" fill="#000" text-anchor="middle" letter-spacing="0">200</text>
<text x="445.0" y="1354.0" font-size="81" fill="#000" text-anchor="middle" letter-spacing="0">300</text>
<text x="716.9" y="1354.0" font-size="81" fill="#000" text-anchor="middle" letter-spacing="0">400</text>
<text x="988.8" y="1354.0" font-size="81" fill="#000" text-anchor="middle" letter-spacing="0">500</text>
<text x="1260.6" y="1354.0" font-size="81" fill="#000" text-anchor="middle" letter-spacing="0">600</text>
<text x="1532.5" y="1354.0" font-size="81" fill="#000" text-anchor="middle" letter-spacing="0">700</text>
<text x="1804.4" y="1354.0" font-size="81" fill="#000" text-anchor="middle" letter-spacing="0">800</text>
<text x="988.8" y="1457.8" font-size="101" fill="#000" text-anchor="middle" letter-spacing="1.75">Wavelength (nm)</text>
<text x="398.0" y="308.5" font-size="81" fill="#000" text-anchor="start" letter-spacing="0">304</text>
<text x="893.0" y="153.0" font-size="81" fill="#000" text-anchor="start" letter-spacing="0">485</text>
<text x="1485.0" y="289.0" font-size="81" fill="#000" text-anchor="start" letter-spacing="0">704</text>
<text x="663.2" y="750.2" font-size="81" fill="#f00" text-anchor="start" letter-spacing="0">423</text>
<text x="1011.7" y="651.9" font-size="81" fill="#f00" text-anchor="start" letter-spacing="0">549</text>
<text x="811.0" y="1044.3" font-size="81" fill="#000" text-anchor="start" letter-spacing="0">450~535</text>
<text x="312.1" y="1190.5" font-size="81" fill="#000" text-anchor="start" letter-spacing="0">283~324</text>
<text x="1391.7" y="1122.5" font-size="81" fill="#000" text-anchor="start" letter-spacing="0">665~730</text>
<text x="1709.0" y="428.0" font-size="73" fill="#000" text-anchor="start" letter-spacing="1.5">(c)</text>
<text x="1709.0" y="737.5" font-size="73" fill="#000" text-anchor="start" letter-spacing="1.5">(b)</text>
<text x="1708.5" y="961.5" font-size="73" fill="#000" text-anchor="start" letter-spacing="1.5">(a)</text>
<text transform="translate(108.4,1030.5) rotate(-90) scale(1.0053,1)" font-size="103" fill="#000">Absorbance (a.u.)</text></svg>
</body></html>
